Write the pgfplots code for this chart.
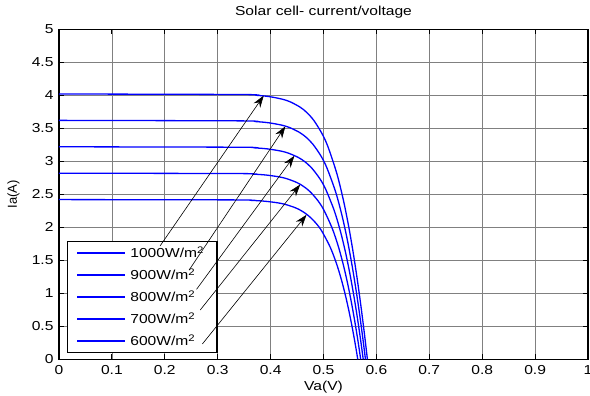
\documentclass[border=0pt]{standalone}
\usepackage{fontspec}
\setmainfont[FakeStretch=1.2]{Liberation Sans}
\newfontfamily\plainf{Liberation Sans}
\usepackage{pgfplots}
\pgfplotsset{compat=1.18}
\usetikzlibrary{arrows.meta}
\newcommand\f{\fontsize{13bp}{15.6bp}\selectfont}
\newcommand\sq{\raisebox{0.62ex}{\fontsize{9.5bp}{10bp}\selectfont 2}}
\begin{document}
\begin{tikzpicture}
\path[use as bounding box] (-59bp,-36.7bp) rectangle (531bp,359.3bp);
\begin{axis}[
  at={(0,0)}, anchor=south west,
  scale only axis, width=529bp, height=330bp,
  xmin=0, xmax=1, ymin=0, ymax=5,
  xtick={0,0.1,0.2,0.3,0.4,0.5,0.6,0.7,0.8,0.9,1},
  ytick={0,0.5,1,1.5,2,2.5,3,3.5,4,4.5,5},
  xticklabels={0,0.1,0.2,0.3,0.4,0.5,0.6,0.7,0.8,0.9,1},
  yticklabels={0,0.5,1,1.5,2,2.5,3,3.5,4,4.5,5},
  tick label style={font=\f},
  xticklabel style={yshift=-3bp},
  yticklabel style={xshift=-2bp},
  /pgf/number format/assume math mode=true,
  tick align=inside, major tick length=5bp,
  tick style={black, line width=0.8bp},
  grid=major,
  major grid style={draw=black!50, line width=0.7bp},
  axis line style={line width=1.1bp},
  title={Solar cell- current/voltage},
  title style={font=\f, at={(axis description cs:0.5,1)}, anchor=base, yshift=8bp, inner sep=0pt},
  xlabel={Va(V)},
  xlabel style={font=\f, at={(axis description cs:0.5,0)}, anchor=base, yshift=-31bp, inner sep=0pt},
  ylabel={\plainf Ia(A)},
  ylabel style={font=\fontsize{13bp}{15.6bp}\selectfont, at={(axis description cs:0,0.5)}, anchor=base, yshift=42bp, inner sep=0pt},
  legend cell align=left,
  legend image code/.code={\draw[#1, draw=blue, line width=1.3bp] (0bp,0bp) -- (48bp,0bp);},
  legend style={at={(rel axis cs:0.015,0.018)}, anchor=south west, draw=black, line width=1.2bp,
    fill=white, font=\f, inner xsep=9bp, inner ysep=2.5bp, row sep=3.6bp,
    nodes={inner ysep=3bp, inner xsep=4.5bp}},
]
\addplot[draw=blue, line width=1.3bp, smooth] coordinates {
(0,4.02)(0.3405,4.012)(0.37318,3.9999)(0.39797,3.9798)(0.42285,3.9396)(0.4375,3.8994)(0.45611,3.819)
(0.46852,3.7386)(0.48185,3.618)(0.49735,3.417)(0.50866,3.216)(0.52523,2.814)(0.5376,2.412)
(0.54767,2.01)(0.55629,1.608)(0.56391,1.206)(0.5708,0.804)(0.57712,0.402)(0.583,0)};
\addlegendentry{1000W/m\sq}
\addplot[draw=blue, line width=1.3bp, smooth] coordinates {
(0,3.62)(0.33891,3.6128)(0.37159,3.6019)(0.39637,3.5838)(0.42123,3.5476)(0.43586,3.5114)(0.45442,3.439)
(0.46679,3.3666)(0.48006,3.258)(0.49545,3.077)(0.50665,2.896)(0.52301,2.534)(0.53517,2.172)
(0.54503,1.81)(0.55344,1.448)(0.56084,1.086)(0.56752,0.724)(0.57363,0.362)(0.5793,0)};
\addlegendentry{900W/m\sq}
\addplot[draw=blue, line width=1.3bp, smooth] coordinates {
(0,3.22)(0.33683,3.2136)(0.3695,3.2039)(0.39426,3.1878)(0.41911,3.1556)(0.43372,3.1234)(0.45224,3.059)
(0.46456,2.9946)(0.47777,2.898)(0.49305,2.737)(0.50415,2.576)(0.52029,2.254)(0.53224,1.932)
(0.54189,1.61)(0.55008,1.288)(0.55728,0.966)(0.56375,0.644)(0.56964,0.322)(0.5751,0)};
\addlegendentry{800W/m\sq}
\addplot[draw=blue, line width=1.3bp, smooth] coordinates {
(0,2.82)(0.33414,2.8144)(0.36681,2.8059)(0.39156,2.7918)(0.41638,2.7636)(0.43097,2.7354)(0.44945,2.679)
(0.46173,2.6226)(0.47488,2.538)(0.49006,2.397)(0.50104,2.256)(0.51698,1.974)(0.52871,1.692)
(0.53815,1.41)(0.54613,1.128)(0.55312,0.846)(0.55937,0.564)(0.56506,0.282)(0.5703,0)};
\addlegendentry{700W/m\sq}
\addplot[draw=blue, line width=1.3bp, smooth] coordinates {
(0,2.42)(0.33076,2.4152)(0.36342,2.4079)(0.38816,2.3958)(0.41296,2.3716)(0.42753,2.3474)(0.44597,2.299)
(0.4582,2.2506)(0.47129,2.178)(0.48636,2.057)(0.49724,1.936)(0.51296,1.694)(0.52448,1.452)
(0.53371,1.21)(0.54148,0.968)(0.54825,0.726)(0.55429,0.484)(0.55977,0.242)(0.5648,0)};
\addlegendentry{600W/m\sq}
\coordinate (t1) at (axis cs:0.191,1.717); \coordinate (h1) at (axis cs:0.387,3.995);
\coordinate (t2) at (axis cs:0.246,1.353); \coordinate (h2) at (axis cs:0.428,3.53);
\coordinate (t3) at (axis cs:0.260,1.060); \coordinate (h3) at (axis cs:0.445,3.084);
\coordinate (t4) at (axis cs:0.267,0.747); \coordinate (h4) at (axis cs:0.456,2.649);
\coordinate (t5) at (axis cs:0.271,0.232); \coordinate (h5) at (axis cs:0.468,2.19);
\end{axis}
\foreach \i in {1,...,5}{
  \draw[black, line width=0.6bp, -{Stealth[length=12bp, width=8bp]}] (t\i) -- (h\i);
}
\end{tikzpicture}
\end{document}
